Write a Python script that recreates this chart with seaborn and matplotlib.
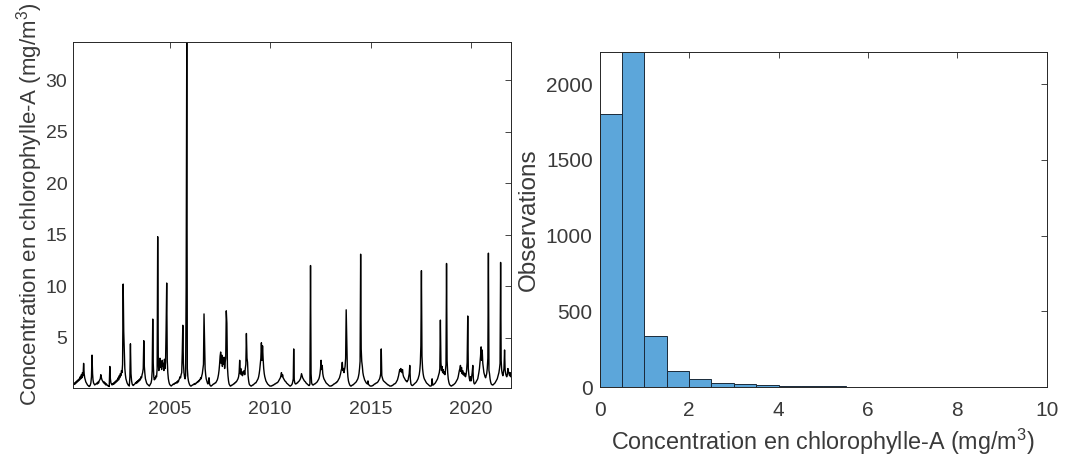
import numpy as np
import pandas as pd
import matplotlib
matplotlib.use("Agg")
import matplotlib.pyplot as plt
import seaborn as sns

# ---------------- data ----------------
# Chlorophyll-A, roughly one value per 10 days (3 per month), per year
chl_2000 = [0.4,0.5,0.45,0.6,0.5,0.7, 0.6,0.8,0.7,0.9,0.8,1.0, 0.9,1.2,1.0,1.4,1.1,1.6,
            1.3,2.5,1.5,1.1,0.9,0.7, 0.6,0.5,0.4,0.35,0.3,0.25]          # from March
chl_2001 = [0.3,0.4,0.6,1.2,3.3,1.5, 0.9,0.6,0.5,0.4,0.45,0.5, 0.5,0.6,0.5,0.7,0.6,0.8,
            0.9,1.0,1.4,1.1,0.9,0.8, 0.7,0.6,0.7,0.5,0.6,0.4, 0.5,0.4,0.35,0.3,0.3,0.25]
chl_2002 = [2.2,1.0,0.6,0.5,0.4,0.5, 0.45,0.6,0.5,0.7,0.6,0.8, 0.7,0.9,0.8,1.1,0.9,1.3,
            1.1,1.5,1.3,1.8,1.6,2.4, 10.2,5.6,3.9,2.0,1.4,1.0, 0.8,0.6,0.5,0.4,0.35,0.3]
chl_2003 = [1.2,4.4,1.5,0.8,0.5,0.4, 0.35,0.4,0.45,0.5,0.6,0.55, 0.7,0.6,0.8,0.7,0.9,0.8,
            1.0,0.9,1.2,1.1,1.4,1.6, 2.0,4.7,2.2,1.5,1.0,0.8, 0.6,0.5,0.45,0.4,0.35,0.3]
chl_2004 = [0.4,0.5,0.6,0.9,1.8,6.8, 2.5,1.2,0.9,1.1,1.0,1.3, 1.2,2.0,14.8,2.6,1.8,2.4,
            3.0,2.1,2.6,1.9,2.8,2.2, 2.5,1.8,2.9,2.0,2.6,5.8, 10.3,2.8,1.6,1.0,0.7,0.5]
chl_2005 = [0.4,0.35,0.3,0.35,0.4,0.45, 0.5,0.45,0.5,0.6,0.55,0.6, 0.7,0.6,0.8,0.7,0.9,1.0,
            1.2,1.1,1.4,1.6,3.5,6.2, 2.5,1.6,1.2,1.0,1.3,9.9, 33.7,2.0,1.2,0.8,0.6,0.45]
chl_2006 = [0.35,0.3,0.3,0.35,0.4,0.4, 0.45,0.5,0.45,0.55,0.5,0.6, 0.6,0.7,0.65,0.8,0.75,0.9,
            0.9,1.1,1.0,1.3,1.5,1.9, 2.4,7.3,4.7,2.0,1.4,1.0, 0.8,0.6,0.5,0.7,1.1,0.5]
chl_2007 = [0.35,0.3,0.3,0.35,0.4,0.45, 0.5,0.5,0.55,0.6,0.6,0.7, 0.8,0.9,1.1,1.4,1.8,2.4,
            3.2,3.6,2.5,3.3,2.2,3.0, 2.4,3.1,2.0,2.6,3.0,7.6, 6.4,2.2,1.3,0.8,0.5,0.4]
chl_2008 = [0.3,0.3,0.35,0.4,0.4,0.45, 0.5,0.5,0.6,0.6,0.7,0.7, 0.8,0.9,1.0,1.2,1.6,2.8,
            1.5,2.0,1.4,1.7,1.3,1.6, 1.5,1.8,1.4,2.0,2.4,5.4, 3.0,2.6,1.3,0.8,0.5,0.4]
chl_2009 = [0.35,0.3,0.3,0.35,0.4,0.4, 0.45,0.5,0.55,0.6,0.6,0.7, 0.8,0.9,1.0,1.2,1.5,1.9,
            2.4,3.0,4.5,2.8,4.2,3.0, 2.0,1.5,1.2,1.0,0.8,0.7, 0.6,0.5,0.45,0.4,0.35,0.3]
chl_2010 = [0.3,0.3,0.3,0.35,0.35,0.4, 0.4,0.45,0.5,0.5,0.55,0.6, 0.6,0.65,0.7,0.8,0.9,1.0,
            1.1,1.3,1.6,1.2,1.4,1.1, 1.0,0.9,0.8,0.75,0.7,0.6, 0.55,0.5,0.45,0.4,0.35,0.3]
chl_2011 = [0.3,0.35,0.4,0.5,0.7,1.0, 3.9,0.9,0.6,0.5,0.5,0.55, 0.6,0.6,0.7,0.75,0.8,0.9,
            1.0,1.2,1.5,1.3,1.1,1.0, 0.9,0.8,0.75,0.7,0.6,0.55, 0.5,0.45,0.4,0.35,0.35,0.5]
chl_2012 = [12.0,1.5,0.6,0.45,0.4,0.4, 0.45,0.5,0.5,0.55,0.6,0.65, 0.7,0.8,0.9,1.0,1.2,1.5,
            2.0,2.8,1.9,2.3,1.5,1.2, 1.0,0.9,0.8,0.7,0.6,0.55, 0.5,0.45,0.4,0.35,0.3,0.3]
chl_2013 = [0.3,0.3,0.35,0.35,0.4,0.45, 0.5,0.5,0.55,0.6,0.6,0.7, 0.7,0.8,0.9,1.0,1.1,1.3,
            1.5,1.8,2.0,2.6,1.8,2.0, 1.6,1.9,2.2,3.0,7.7,4.7, 2.0,1.2,0.8,0.6,0.45,0.35]
chl_2014 = [0.3,0.3,0.35,0.4,0.4,0.45, 0.5,0.55,0.6,0.65,0.7,0.8, 0.9,1.0,1.2,1.5,2.0,2.7,
            13.1,3.9,2.7,2.2,1.6,1.3, 1.1,0.9,0.8,0.7,0.6,0.55, 0.5,0.8,0.45,0.4,0.35,0.3]
chl_2015 = [0.3,0.3,0.3,0.35,0.35,0.4, 0.45,0.5,0.5,0.55,0.6,0.6, 0.65,0.7,0.8,0.9,1.0,1.2,
            1.5,3.9,1.3,1.1,0.9,0.8, 0.75,0.7,0.65,0.6,0.55,0.5, 0.45,0.4,0.4,0.35,0.3,0.3]
chl_2016 = [0.3,0.3,0.35,0.35,0.4,0.45, 0.5,0.5,0.55,0.6,0.7,0.8, 0.9,1.1,1.3,1.6,1.9,1.7,
            2.0,1.8,1.6,1.9,1.4,1.2, 1.1,1.0,0.9,0.8,0.8,0.7, 0.8,0.9,1.2,1.5,2.3,1.0]
chl_2017 = [0.5,0.4,0.35,0.35,0.4,0.45, 0.5,0.55,0.6,0.65,0.7,0.8, 0.9,1.0,1.2,1.4,1.8,2.5,
            4.2,11.5,3.2,2.0,1.5,1.2, 1.0,0.9,0.8,0.7,0.6,0.55, 0.5,0.45,0.4,0.35,0.3,0.3]
chl_2018 = [0.3,0.35,1.0,0.4,0.4,0.45, 0.5,0.55,0.6,0.7,0.8,0.9, 1.0,1.2,1.4,1.6,2.0,6.7,
            2.6,1.8,2.2,1.6,1.9,1.5, 1.7,1.4,1.8,2.4,12.2,2.8, 1.6,1.0,0.7,0.5,0.4,0.35]
chl_2019 = [0.3,0.3,0.35,0.4,0.4,0.45, 0.5,0.55,0.6,0.7,0.8,0.9, 1.0,1.2,1.5,1.8,2.0,2.3,
            1.7,2.1,1.5,1.8,1.4,1.6, 1.3,1.5,1.2,1.4,1.8,2.6, 7.1,2.0,1.4,1.0,0.8,1.2]
chl_2020 = [0.8,1.2,1.6,2.3,1.0,0.6, 0.5,0.55,0.6,0.7,0.8,0.9, 1.0,1.3,1.6,2.0,2.6,3.2,
            4.1,2.8,3.8,2.5,2.0,1.6, 1.4,1.2,1.1,1.3,1.5,2.0, 3.0,13.2,1.8,1.5,1.0,0.7]
chl_2021 = [0.5,0.45,0.4,0.4,0.45,0.5, 0.55,0.6,0.7,0.8,0.9,1.0, 1.2,1.4,1.6,2.0,2.5,12.3,
            2.8,1.8,1.5,1.3,1.6,2.0, 3.8,1.9,1.5,1.3,1.2,1.4, 2.0,1.7,1.5,1.3,1.6,1.2]

years = list(range(2000, 2022))
series_by_year = [chl_2000, chl_2001, chl_2002, chl_2003, chl_2004, chl_2005, chl_2006,
                  chl_2007, chl_2008, chl_2009, chl_2010, chl_2011, chl_2012, chl_2013,
                  chl_2014, chl_2015, chl_2016, chl_2017, chl_2018, chl_2019, chl_2020,
                  chl_2021]

# Histogram (bin width 0.5 mg/m3) counts
hist_edges = [0, 0.5, 1.0, 1.5, 2.0, 2.5, 3.0, 3.5, 4.0, 4.5, 5.0, 5.5]
hist_counts = [1800, 2212, 335, 106, 53, 26, 20, 15, 8, 6, 5]

x_ticks_years = [2005, 2010, 2015, 2020]
left_yticks = [5, 10, 15, 20, 25, 30]
right_xticks = [0, 2, 4, 6, 8, 10]
right_yticks = [0, 500, 1000, 1500, 2000]
label_text = "Concentration en chlorophylle-A (mg/m$^{3}$)"

# ---------------- build tables ----------------
rows = []
for yr, vals in zip(years, series_by_year):
    start = 36 - len(vals)
    for k, v in enumerate(vals):
        idx = start + k
        d = pd.Timestamp(yr, idx // 3 + 1, 5 + 10 * (idx % 3))
        rows.append((d, v))
ts = pd.DataFrame(rows, columns=["date", "chl"])

edges = np.array(hist_edges)
hist_df = pd.DataFrame({"center": (edges[:-1] + edges[1:]) / 2,
                        "count": np.array(hist_counts, dtype=float)})

# ---------------- style ----------------
sns.set_style("white")
plt.rcParams["font.family"] = ["Liberation Sans", "DejaVu Sans"]
plt.rcParams["mathtext.fontset"] = "custom"
plt.rcParams["mathtext.rm"] = "Liberation Sans"
plt.rcParams["mathtext.it"] = "Liberation Sans:italic"
axis_col = "#262626"
text_col = "#3a3a3a"

fig = plt.figure(figsize=(10.65, 4.62), dpi=100)
ax1 = fig.add_axes([0.0685, 0.160, 0.411, 0.749])
ax2 = fig.add_axes([0.563, 0.1623, 0.420, 0.725])

# ---- left: time series ----
sns.lineplot(data=ts, x="date", y="chl", ax=ax1, color="black", linewidth=1.0,
             estimator=None, sort=True)
ax1.set_xlim(ts["date"].min(), ts["date"].max())
ax1.set_ylim(0.1, ts["chl"].max())
ax1.set_xticks([pd.Timestamp(y, 1, 1) for y in x_ticks_years])
ax1.set_xticklabels([str(y) for y in x_ticks_years])
ax1.set_yticks(left_yticks)
ax1.set_yticklabels([str(v) for v in left_yticks])
ax1.set_xlabel("")
ax1.set_ylabel(label_text, fontsize=16, color=text_col)
ax1.yaxis.set_label_coords(-0.063, 0.53)

# ---- right: histogram ----
sns.histplot(data=hist_df, x="center", weights="count", bins=hist_edges, ax=ax2,
             color="#5ca6da", alpha=1.0, edgecolor="#1a2a3a", linewidth=0.7)
ax2.set_xlim(0, 10)
ax2.set_ylim(0, max(hist_counts))
ax2.set_xticks(right_xticks)
ax2.set_xticklabels([str(v) for v in right_xticks])
ax2.set_yticks(right_yticks)
ax2.set_yticklabels([str(v) for v in right_yticks])
ax2.set_xlabel(label_text, fontsize=16.8, color=text_col, labelpad=5)
ax2.set_ylabel("Observations", fontsize=17.5, color=text_col, labelpad=4)

for ax in (ax1, ax2):
    for s in ax.spines.values():
        s.set_visible(True)
        s.set_color(axis_col)
        s.set_linewidth(0.7)
    ax.tick_params(direction="in", top=True, right=True, length=4, width=0.6,
                   color=axis_col, labelcolor=text_col)

ax1.tick_params(axis="x", labelsize=14, pad=9)
ax1.tick_params(axis="y", labelsize=14, pad=4)
ax2.tick_params(axis="x", labelsize=15, pad=10)
ax2.tick_params(axis="y", labelsize=15, pad=5)

fig.savefig("out.png", dpi=100, facecolor="white")
